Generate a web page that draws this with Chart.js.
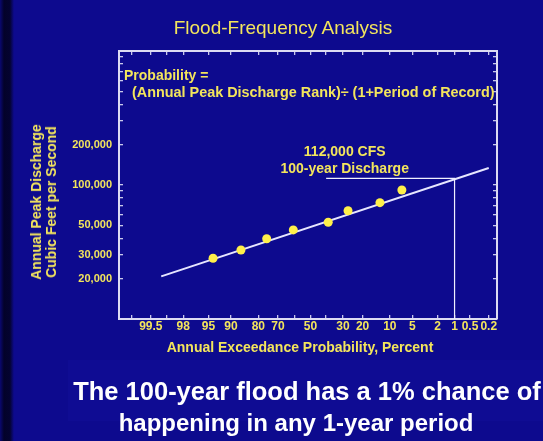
<!DOCTYPE html>
<html>
<head>
<meta charset="utf-8">
<title>Flood-Frequency Analysis</title>
<script src="https://cdn.jsdelivr.net/npm/chart.js@4.4.1/dist/chart.umd.min.js"></script>
<style>
  html, body { margin: 0; padding: 0; width: 543px; height: 441px; overflow: hidden; background: #0d0a8e; }
  #stage {
    position: relative; width: 543px; height: 441px;
    background: linear-gradient(to right, #0a0870 0px, #03022a 4px, #040330 10px, #0d0a8e 14px);
  }
  #band { position: absolute; left: 68px; top: 360px; width: 475px; height: 61px; background: #0f0c93; }
  canvas { position: absolute; left: 0; top: 0; }
  .txt { position: absolute; font-family: "Liberation Sans", Arial, Helvetica, sans-serif; white-space: nowrap; line-height: 1; }
  .yellow { color: #f3e55c; }
  .bold { font-weight: bold; }
</style>
</head>
<body>
<div id="stage">
  <div id="band"></div>
  <canvas id="chart" width="543" height="441"></canvas>
  <div class="txt yellow" style="left:283px;top:27px;font-size:19px;transform:translate(-50%,-50%);">Flood-Frequency Analysis</div>
  <div class="txt yellow bold" style="left:124px;top:75px;font-size:14px;transform:translateY(-50%);">Probability =</div>
  <div class="txt yellow bold" style="left:132px;top:92px;font-size:14.4px;transform:translateY(-50%);">(Annual Peak Discharge Rank)÷ (1+Period of Record)</div>
  <div class="txt yellow bold" style="left:44px;top:202px;font-size:14px;line-height:15px;text-align:center;transform:translate(-50%,-50%) rotate(-90deg);">Annual Peak Discharge<br>Cubic Feet per Second</div>
  <div class="txt yellow bold" style="left:300px;top:347px;font-size:14px;transform:translate(-50%,-50%);">Annual Exceedance Probability, Percent</div>
  <div class="txt bold" style="left:307px;top:392px;font-size:25.5px;color:#ffffff;transform:translate(-50%,-50%);">The 100-year flood has a 1% chance of</div>
  <div class="txt bold" style="left:296px;top:423px;font-size:24px;color:#ffffff;transform:translate(-50%,-50%);">happening in any 1-year period</div>
</div>
<script>
// ---- data ----------------------------------------------------------------
// Annual peak discharges plotted at their exceedance probability (percent)
const exceedancePct = [94.2, 86.9, 76.0, 60.9, 38.7, 27.2, 13.1, 7.0];
const peakDischargeCfs = [28400, 32700, 39700, 46200, 52700, 64300, 73800, 91800];

// Fitted frequency curve (end points)
const fitCurvePct = [99.2, 0.2];
const fitCurveCfs = [20800, 134000];

// 100-year (1 %) design discharge
const designPct = 1;
const designCfs = 112000;
const designLeaderStartPct = 40;

// Probability axis
const probRange = [0.13, 99.9];
const probTicks = [99.8, 99.5, 99, 98, 95, 90, 80, 70, 60, 50, 40, 30, 20, 10, 5, 2, 1, 0.5, 0.2];
const probTickLabels = [99.5, 98, 95, 90, 80, 70, 50, 30, 20, 10, 5, 2, 1, 0.5, 0.2];

// Discharge axis
const cfsRange = [10000, 1000000];
const cfsTicks = [20000, 30000, 40000, 50000, 60000, 70000, 80000, 90000, 100000,
                  200000, 300000, 400000, 500000, 600000, 700000, 800000, 900000];
const cfsTickLabels = [20000, 30000, 50000, 100000, 200000];

// ---- normal probability scale -----------------------------------------
function normInv(p) {
  const a = [-3.969683028665376e+01, 2.209460984245205e+02, -2.759285104469687e+02, 1.383577518672690e+02, -3.066479806614716e+01, 2.506628277459239e+00];
  const b = [-5.447609879822406e+01, 1.615858368580409e+02, -1.556989798598866e+02, 6.680131188771972e+01, -1.328068155288572e+01];
  const c = [-7.784894002430293e-03, -3.223964580411365e-01, -2.400758277161838e+00, -2.549732539343734e+00, 4.374664141464968e+00, 2.938163982698783e+00];
  const d = [7.784695709041462e-03, 3.224671290700398e-01, 2.445134137142996e+00, 3.754408661907416e+00];
  const pl = 0.02425, ph = 1 - pl;
  let q, r;
  if (p < pl) {
    q = Math.sqrt(-2 * Math.log(p));
    return (((((c[0]*q+c[1])*q+c[2])*q+c[3])*q+c[4])*q+c[5]) / ((((d[0]*q+d[1])*q+d[2])*q+d[3])*q+1);
  }
  if (p > ph) {
    q = Math.sqrt(-2 * Math.log(1 - p));
    return -(((((c[0]*q+c[1])*q+c[2])*q+c[3])*q+c[4])*q+c[5]) / ((((d[0]*q+d[1])*q+d[2])*q+d[3])*q+1);
  }
  q = p - 0.5; r = q * q;
  return (((((a[0]*r+a[1])*r+a[2])*r+a[3])*r+a[4])*r+a[5])*q / (((((b[0]*r+b[1])*r+b[2])*r+b[3])*r+b[4])*r+1);
}
function normCdf(z) {
  const t = 1 / (1 + 0.3275911 * Math.abs(z) / Math.SQRT2);
  const y = 1 - (((((1.061405429*t - 1.453152027)*t) + 1.421413741)*t - 0.284496736)*t + 0.254829592)*t * Math.exp(-z*z/2);
  return z >= 0 ? 0.5 * (1 + y) : 0.5 * (1 - y);
}

class ProbabilityScale extends Chart.Scale {
  static id = 'probability';
  static defaults = {};
  parse(raw) { return raw == null ? null : +raw; }
  determineDataLimits() {
    this.min = this.options.min;
    this.max = this.options.max;
  }
  buildTicks() { return []; }
  getLabelForValue(v) { return String(v); }
  configure() {
    super.configure();
    this._zLo = normInv(this.min / 100);
    this._zSpan = normInv(this.max / 100) - this._zLo;
  }
  getPixelForValue(v) {
    return this.getPixelForDecimal((normInv(v / 100) - this._zLo) / this._zSpan);
  }
  getValueForPixel(px) {
    return 100 * normCdf(this._zLo + this.getDecimalForPixel(px) * this._zSpan);
  }
}
Chart.register(ProbabilityScale);

// ---- styling --------------------------------------------------------------
const FONT = '"Liberation Sans", Arial, Helvetica, sans-serif';
const YELLOW = '#f3e55c';
const FRAME = '#dcdcf2';
const TICK = '#c8c8ea';

const fmt = v => v.toLocaleString('en-US');

function probAxis(position, showLabels) {
  return {
    type: 'probability',
    position,
    min: probRange[0],
    max: probRange[1],
    reverse: true,
    afterBuildTicks: s => { s.ticks = probTicks.map(v => ({ value: v })); },
    afterFit: s => { s.height = showLabels ? 122 : 0; },
    border: { display: true, color: FRAME, width: 2 },
    grid: { drawOnChartArea: false, drawTicks: true, tickLength: -4, color: TICK, lineWidth: 1.3 },
    ticks: {
      display: showLabels,
      autoSkip: false,
      maxRotation: 0,
      padding: 4,
      color: YELLOW,
      font: { family: FONT, size: 12, weight: 'bold' },
      callback: v => probTickLabels.includes(v) ? String(v) : ''
    }
  };
}

function cfsAxis(position, showLabels) {
  return {
    type: 'logarithmic',
    position,
    min: cfsRange[0],
    max: cfsRange[1],
    afterBuildTicks: s => { s.ticks = cfsTicks.map(v => ({ value: v })); },
    afterFit: s => { s.width = showLabels ? 119 : 0; },
    border: { display: true, color: FRAME, width: 2 },
    grid: { drawOnChartArea: false, drawTicks: true, tickLength: -4, color: TICK, lineWidth: 1.3 },
    ticks: {
      display: showLabels,
      autoSkip: false,
      padding: 11,
      color: YELLOW,
      font: { family: FONT, size: 11, weight: 'bold' },
      callback: v => cfsTickLabels.includes(v) ? fmt(v) : ''
    }
  };
}

// Label above the 100-year leader line
const designLabel = {
  id: 'designLabel',
  afterDatasetsDraw(chart) {
    const { ctx, scales } = chart;
    const x = scales.x.getPixelForValue(29);
    const y = scales.y.getPixelForValue(designCfs);
    ctx.save();
    ctx.font = 'bold 14px ' + FONT;
    ctx.fillStyle = YELLOW;
    ctx.textAlign = 'center';
    ctx.textBaseline = 'middle';
    ctx.fillText(fmt(designCfs) + ' CFS', x, y - 26);
    ctx.fillText((100 / designPct) + '-year Discharge', x, y - 9);
    ctx.restore();
  }
};

new Chart(document.getElementById('chart'), {
  type: 'scatter',
  data: {
    datasets: [
      {
        label: 'Frequency curve',
        data: fitCurvePct.map((p, i) => ({ x: p, y: fitCurveCfs[i] })),
        showLine: true,
        borderColor: '#e6e6ff',
        borderWidth: 2,
        pointRadius: 0,
        order: 3
      },
      {
        label: '100-year discharge',
        data: [
          { x: designLeaderStartPct, y: designCfs },
          { x: designPct, y: designCfs },
          { x: designPct, y: cfsRange[0] }
        ],
        showLine: true,
        borderColor: '#f0f0ff',
        borderWidth: 1.2,
        pointRadius: 0,
        order: 2
      },
      {
        label: 'Annual peaks',
        data: exceedancePct.map((p, i) => ({ x: p, y: peakDischargeCfs[i] })),
        backgroundColor: '#fff04a',
        borderWidth: 0,
        pointRadius: 4.5,
        order: 1
      }
    ]
  },
  options: {
    responsive: false,
    animation: false,
    events: [],
    layout: { padding: { left: 0, right: 46, top: 51, bottom: 0 } },
    plugins: { legend: { display: false }, tooltip: { enabled: false }, title: { display: false } },
    scales: {
      x: probAxis('bottom', true),
      x2: probAxis('top', false),
      y: cfsAxis('left', true),
      y2: cfsAxis('right', false)
    }
  },
  plugins: [designLabel]
});
</script>
</body>
</html>
